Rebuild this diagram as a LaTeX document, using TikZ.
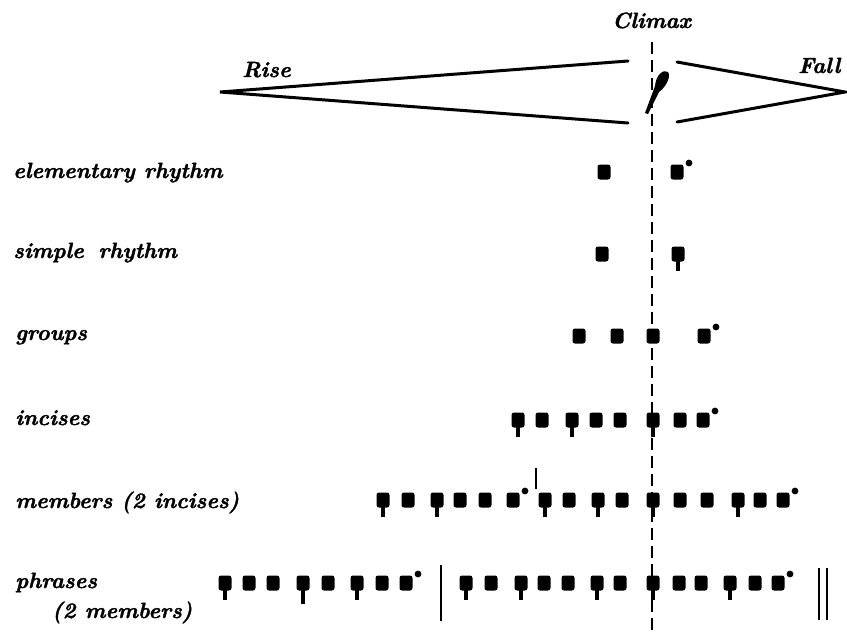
\documentclass[tikz,border=0pt]{standalone}
\usepackage{fontspec}
\newfontfamily\lblfont{Latin Modern Roman}[BoldItalicFeatures={FakeBold=1.6}]
\begin{document}
\begin{tikzpicture}[x=1pt,y=-1pt,
  lbl/.style={font=\lblfont\fontsize{22}{26}\selectfont\bfseries\itshape, inner sep=0pt, anchor=base west},
  wedge/.style={line width=3pt, line cap=round, line join=miter},
  climaxline/.style={line width=2.3pt, dash pattern=on 12pt off 6pt},
  barline/.style={line width=2.6pt}]
\useasboundingbox (0,0) rectangle (847,633);
\newcommand\neu[2]{\fill[rounded corners=2.5pt] (#1-6.5,#2-7.5) rectangle (#1+6.5,#2+7.5);}
\newcommand\stm[2]{\neu{#1}{#2}\fill (#1-2.2,#2) rectangle (#1+2.2,#2+16.5);}
\newcommand\neud[2]{\neu{#1}{#2}\fill (#1+12,#2-9) circle (3.4pt);}
% climax dashed line
\coordinate (ctop) at (652,42);
\coordinate (cbot) at (652,633);
\draw[climaxline] (ctop) -- (cbot);
% titles
\node[lbl] (rise) at (242,77) {Rise};
\node[lbl] (climax) at (612,28) {Climax};
\node[lbl] (fall) at (798,73) {Fall};
% wedges
\coordinate (ra) at (220,92);
\coordinate (rt) at (628,61);
\coordinate (rb) at (628,123);
\coordinate (fa) at (845,92);
\coordinate (ft) at (677,62);
\coordinate (fb) at (677,122);
\draw[wedge] (rt) -- (ra) -- (rb);
\draw[wedge] (ft) -- (fa) -- (fb);
% climax mark
\fill (645,113) -- (655,86) .. controls (656,74) and (664,69) .. (668,72)
  .. controls (671,76) and (667,86) .. (659,92) -- (648,114) -- cycle;
% row labels
\node[lbl] (l1) at (13,178) {elementary rhythm};
\node[lbl] (l2) at (13,258) {simple\hspace{0.25em} rhythm};
\node[lbl] (l3) at (15,340) {groups};
\node[lbl] (l4) at (15,425) {incises};
\node[lbl] (l5) at (15,508) {members (2 incises)};
\node[lbl] (l6) at (15,588) {phrases};
\node[lbl] (l7) at (52,618) {(2 members)};
% elementary rhythm
\neu{604}{172} \neud{677}{172}
% simple rhythm
\neu{602}{254} \stm{678}{254}
% groups
\neu{579}{336} \neu{617}{336} \neu{653}{336} \neud{704}{336}
% incises
\stm{518}{420} \neu{542}{420} \stm{572}{420} \neu{596}{420} \neu{620}{420}
\stm{653}{420} \neu{680}{420} \neud{703}{420}
% members
\stm{383}{500} \neu{408}{500} \stm{437}{500} \neu{460}{500} \neu{485}{500} \neud{513}{500}
\draw[barline] (536,468) -- (536,489);
\stm{545}{500} \neu{569}{500} \stm{598}{500} \neu{622}{500}
\stm{653}{500} \neu{680}{500} \neu{707}{500} \stm{738}{500} \neu{760}{500} \neud{783}{500}
% phrases
\stm{225}{583} \neu{249}{583} \neu{273}{583} \stm{303}{583} \fill (300.8,590) rectangle (305.2,604);
\neu{328}{583} \stm{357}{583} \neu{382}{583} \neud{406}{583}
\draw[barline] (441,565) -- (441,621);
\stm{466}{583} \neu{491}{583} \stm{521}{583} \neu{544}{583} \neu{568}{583} \stm{597}{583} \neu{620}{583}
\stm{653}{583} \neu{679}{583} \neu{701}{583} \stm{730}{583} \neu{755}{583} \neud{778}{583}
\draw[barline] (819,568) -- (819,620);
\draw[barline] (827,568) -- (827,620);
\end{tikzpicture}
\end{document}
